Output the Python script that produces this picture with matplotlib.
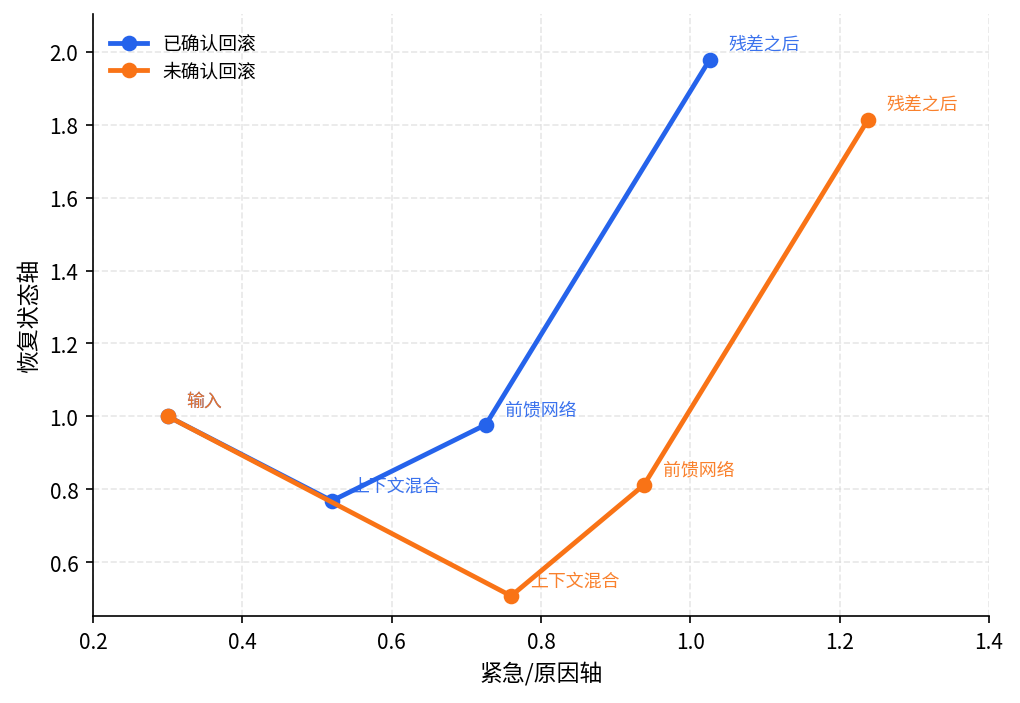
import matplotlib.pyplot as plt

plt.rcParams['font.family'] = ['Noto Sans CJK SC', 'DejaVu Sans']

# data
stages = ['输入', '上下文混合', '前馈网络', '残差之后']
conf_x = [0.30, 0.52, 0.726, 1.026]
conf_y = [1.00, 0.768, 0.977, 1.979]
unconf_x = [0.30, 0.760, 0.938, 1.238]
unconf_y = [1.00, 0.507, 0.812, 1.814]
series_names = ['已确认回滚', '未确认回滚']

blue = '#2563eb'
orange = '#f97316'

fig = plt.figure(figsize=(6.8, 4.6933), dpi=150)
ax = fig.add_axes([0.0912, 0.1236, 0.8784, 0.8551])

ax.plot(conf_x, conf_y, color=blue, lw=2.3, marker='o', ms=6.5, label=series_names[0], zorder=3)
ax.plot(unconf_x, unconf_y, color=orange, lw=2.3, marker='o', ms=6.5, label=series_names[1], zorder=3)

for xs, ys, c in [(conf_x, conf_y, blue), (unconf_x, unconf_y, orange)]:
    for s, x, y in zip(stages, xs, ys):
        ax.annotate(s, (x, y), xytext=(9, 7.5), textcoords='offset points',
                    ha='left', va='center', fontsize=8.6, color=c, alpha=0.9)

ax.set_xlim(0.2, 1.4)
ax.set_ylim(0.452, 2.104)
ax.set_xlabel('紧急/原因轴', fontsize=11)
ax.set_ylabel('恢复状态轴', fontsize=11)
ax.tick_params(labelsize=10)
ax.grid(True, linestyle='--', color='#d9d9d9', alpha=0.6, lw=0.8)
ax.spines['top'].set_visible(False)
ax.spines['right'].set_visible(False)
ax.legend(loc='upper left', frameon=False, fontsize=9, labelspacing=0.3,
          bbox_to_anchor=(0.0, 0.995))

fig.savefig('out.png', dpi=150)
